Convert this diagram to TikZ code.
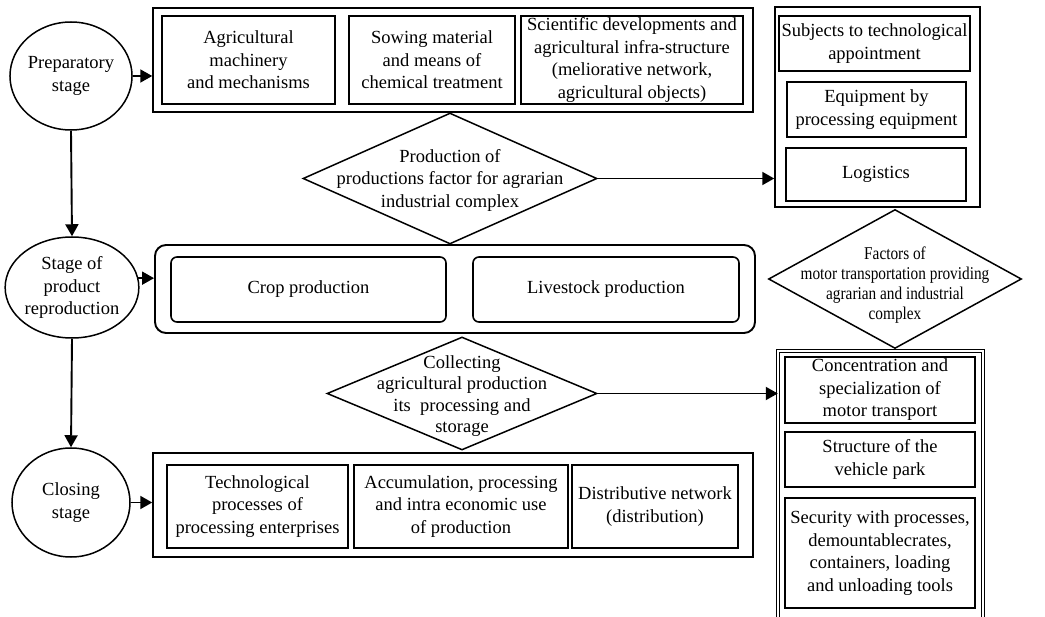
\documentclass[tikz,border=0pt]{standalone}
\usepackage{fontspec}
\setmainfont{Liberation Serif}
\newfontfamily\condfont[FakeStretch=0.85]{Liberation Serif}
\usetikzlibrary{shapes.geometric,arrows.meta}
\tikzset{
  txt/.style={font=\fontsize{18.5}{22.5}\selectfont, align=center, inner sep=0pt},
  outerbox/.style={draw, line width=1.5pt, rectangle, inner sep=0pt},
  innerbox/.style={txt, draw, line width=2.1pt, rectangle},
  roundouter/.style={draw, line width=1.9pt, rectangle, rounded corners=11pt, inner sep=0pt},
  roundinner/.style={txt, draw, line width=1.6pt, rectangle, rounded corners=6pt},
  stagenode/.style={txt, draw, ellipse, line width=1.5pt},
  dia/.style={draw, diamond, line width=1.5pt, inner sep=0pt},
  arr/.style={line width=1.9pt, -{Triangle[length=12pt,width=13pt]}},
}
\begin{document}
\begin{tikzpicture}[x=1pt,y=-1pt]
\useasboundingbox (0,0) rectangle (1045,617);

% stage circles
\node[stagenode, minimum width=116pt, minimum height=108pt] (prep) at (71,76) {Preparatory\\stage};
\node[stagenode, minimum width=119pt, minimum height=101pt] (repro) at (72,287.5) {Stage of\\product\\reproduction};
\node[stagenode, minimum width=118pt, minimum height=109pt] (close) at (71,502.5) {Closing\\stage};

% top group
\node[outerbox, minimum width=600pt, minimum height=104pt] (top) at (453,60) {};
\node[innerbox, minimum width=173pt, minimum height=88pt] (t1) at (248.5,60) {Agricultural\\machinery\\and mechanisms};
\node[innerbox, minimum width=166pt, minimum height=88pt] (t2) at (432,60) {Sowing material\\and means of\\chemical treatment};
\node[innerbox, minimum width=222pt, minimum height=88pt] (t3) at (632,60) {Scientific developments and\\agricultural infra-structure\\(meliorative network,\\agricultural objects)};

% right top group
\node[outerbox, minimum width=205pt, minimum height=200pt] (rb1) at (877.5,107) {};
\node[innerbox, minimum width=191pt, minimum height=55pt] (r1) at (874.5,43.5) {Subjects to technological\\appointment};
\node[innerbox, minimum width=179pt, minimum height=55pt] (r2) at (876.5,109.5) {Equipment by\\processing equipment};
\node[innerbox, minimum width=180pt, minimum height=53pt] (r3) at (876,174.5) {Logistics};

% diamond 1
\node[dia, minimum width=294pt, minimum height=131pt] (d1) at (450,178.5) {};
\node[txt] (d1t) at (450,180) {Production of\\productions factor for agrarian\\industrial complex};

% middle group
\node[roundouter, minimum width=600pt, minimum height=88pt] (mid) at (455,289) {};
\node[roundinner, minimum width=275pt, minimum height=65pt] (crop) at (308.5,289.5) {Crop production};
\node[roundinner, minimum width=266pt, minimum height=65pt] (live) at (606,289.5) {Livestock production};

% diamond 2
\node[dia, minimum width=253pt, minimum height=139pt] (d2) at (895,279) {};
\node[txt, font=\condfont\fontsize{18}{20}\selectfont] (d2t) at (895,285) {Factors of\\motor transportation providing\\agrarian and industrial\\complex};

% diamond 3
\node[dia, minimum width=270pt, minimum height=113pt] (d3) at (462,393.5) {};
\node[txt, font=\fontsize{18.5}{21.5}\selectfont] (d3t) at (462,396) {Collecting\\agricultural production\\its\ \ processing and\\storage};

% right lower group (open at bottom, double line)
\node[minimum width=205pt, minimum height=266pt, inner sep=0pt] (rb2) at (880.5,484) {};
\draw[double, double distance=1.8pt, line width=1pt] (rb2.south west) -- (rb2.north west) -- (rb2.north east) -- (rb2.south east);
\node[innerbox, minimum width=190pt, minimum height=66pt] (c1) at (880,390) {Concentration and\\specialization of\\motor transport};
\node[innerbox, minimum width=190pt, minimum height=55pt] (c2) at (880,459.5) {Structure of the\\vehicle park};
\node[innerbox, minimum width=190pt, minimum height=110pt] (c3) at (880,553) {Security with processes,\\demountablecrates,\\containers, loading\\and unloading tools};

% bottom group
\node[outerbox, minimum width=600pt, minimum height=104pt] (bot) at (453,505) {};
\node[innerbox, minimum width=181pt, minimum height=83pt] (b1) at (257.5,506.5) {Technological\\processes of\\processing enterprises};
\node[innerbox, minimum width=214pt, minimum height=83pt] (b2) at (461,506.5) {Accumulation, processing\\and intra economic use\\of production};
\node[innerbox, minimum width=166pt, minimum height=83pt] (b3) at (655,506.5) {Distributive network\\(distribution)};

% connectors
\draw[arr] (prep.east) -- (prep.east -| top.west);
\draw[arr] (repro.8) -- (repro.8 -| mid.west);
\draw[arr] (close.east) -- (close.east -| bot.west);
\draw[arr] (prep.south) -- (repro.north);
\draw[arr] (repro.south) -- (close.north);
\draw[arr] (d1.east) -- (d1.east -| rb1.west);
\draw[arr] (d3.east) -- (d3.east -| rb2.west);
\end{tikzpicture}
\end{document}
